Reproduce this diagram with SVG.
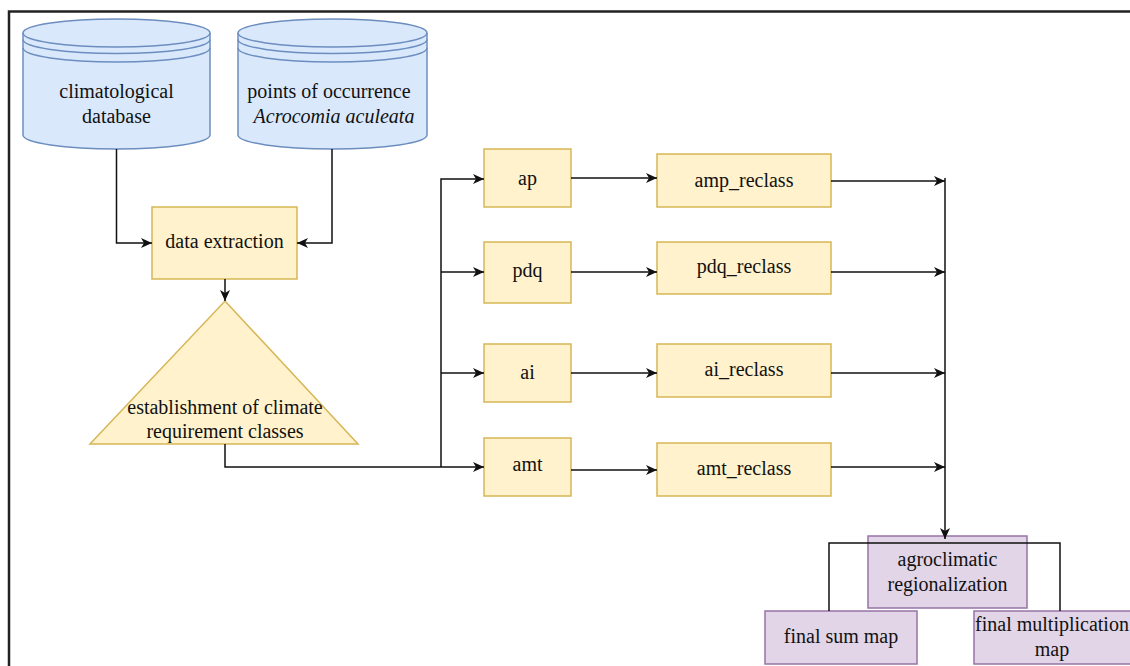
<svg xmlns="http://www.w3.org/2000/svg" width="1130" height="666" viewBox="0 0 1130 666">
<style>
.t{font-family:"Liberation Serif","Times New Roman",serif;font-size:20px;fill:#111;text-anchor:middle}
.i{font-style:italic}
.db{fill:#dae8fc;stroke:#6c8ebf;stroke-width:1.5}
.dbl{fill:none;stroke:#6c8ebf;stroke-width:1.5}
.y{fill:#fff2cc;stroke:#d6b656;stroke-width:1.5}
.p{fill:#e1d5e7;stroke:#9673a6;stroke-width:1.5}
.c{fill:none;stroke:#111;stroke-width:1.5}
.ca{fill:none;stroke:#111;stroke-width:1.5;marker-end:url(#arr)}
</style>
<defs>
<marker id="arr" markerUnits="userSpaceOnUse" markerWidth="12" markerHeight="10" refX="11" refY="5" orient="auto">
<path d="M0,0 L11,5 L0,10 L3,5 Z" fill="#111"/>
</marker>
</defs>
<rect width="1130" height="666" fill="#fff"/>
<path d="M9,666 V11.5 H1130" fill="none" stroke="#222" stroke-width="2.5"/>

<g id="climatological-database">
<path class="db" d="M23,33 A93.5,14 0 0 1 210,33 V135 A93.5,14 0 0 1 23,135 Z"/>
<path class="dbl" d="M23,33 A93.5,14 0 0 0 210,33 M23,39.5 A93.5,14 0 0 0 210,39.5 M23,48 A93.5,14 0 0 0 210,48"/>
<text class="t" x="116.5" y="98">climatological</text>
<text class="t" x="116.5" y="123">database</text>
</g>

<g id="points-of-occurrence">
<path class="db" d="M238,33 A94.5,14 0 0 1 427,33 V135 A94.5,14 0 0 1 238,135 Z"/>
<path class="dbl" d="M238,33 A94.5,14 0 0 0 427,33 M238,39.5 A94.5,14 0 0 0 427,39.5 M238,48 A94.5,14 0 0 0 427,48"/>
<text class="t" x="329" y="98">points of occurrence</text>
<text class="t i" x="334" y="123">Acrocomia aculeata</text>
</g>

<g id="data-extraction">
<rect class="y" x="152" y="207" width="145" height="72"/>
<text class="t" x="224.5" y="248">data extraction</text>
</g>

<g id="climate-classes">
<path class="y" d="M225,301 L358,444 L90,444 Z"/>
<text class="t" x="225" y="414">establishment of climate</text>
<text class="t" x="225" y="438">requirement classes</text>
</g>

<g id="ap"><rect class="y" x="484" y="149" width="87" height="58"/><text class="t" x="527.5" y="185">ap</text></g>
<g id="pdq"><rect class="y" x="484" y="242" width="87" height="61"/><text class="t" x="527.5" y="277">pdq</text></g>
<g id="ai"><rect class="y" x="484" y="344" width="87" height="58"/><text class="t" x="527.5" y="379">ai</text></g>
<g id="amt"><rect class="y" x="484" y="438" width="87" height="58"/><text class="t" x="527.5" y="471">amt</text></g>

<g id="amp_reclass"><rect class="y" x="657" y="154" width="174" height="53"/><text class="t" x="744" y="187">amp_reclass</text></g>
<g id="pdq_reclass"><rect class="y" x="657" y="242" width="174" height="52"/><text class="t" x="744" y="273">pdq_reclass</text></g>
<g id="ai_reclass"><rect class="y" x="657" y="344" width="174" height="53"/><text class="t" x="744" y="376">ai_reclass</text></g>
<g id="amt_reclass"><rect class="y" x="657" y="443" width="174" height="53"/><text class="t" x="744" y="475">amt_reclass</text></g>

<g id="agroclimatic-regionalization"><rect class="p" x="868" y="536" width="159" height="72"/><text class="t" x="947.5" y="566">agroclimatic</text><text class="t" x="947.5" y="591">regionalization</text></g>
<g id="final-sum-map"><rect class="p" x="765" y="611" width="152" height="53"/><text class="t" x="841" y="643">final sum map</text></g>
<g id="final-multiplication-map"><rect class="p" x="974" y="611" width="160" height="53"/><text class="t" x="1052" y="631">final multiplication</text><text class="t" x="1052" y="656">map</text></g>

<g id="connectors">
<path class="ca" d="M116.5,149 V243 H152"/>
<path class="ca" d="M332,149 V243 H297"/>
<path class="ca" d="M225,279 V301"/>
<path class="ca" d="M225,444 V467 H484"/>
<path class="ca" d="M441,467 V179 H484"/>
<path class="ca" d="M441,272 H484"/>
<path class="ca" d="M441,373 H484"/>
<path class="ca" d="M571,178 H657"/>
<path class="ca" d="M571,272 H657"/>
<path class="ca" d="M571,373 H657"/>
<path class="ca" d="M571,470 H657"/>
<path class="ca" d="M831,181 H945"/>
<path class="ca" d="M831,272 H945"/>
<path class="ca" d="M831,373 H945"/>
<path class="ca" d="M831,467 H945"/>
<path class="ca" d="M945,178 V539"/>
<path class="c" d="M829,611 V543 H1060 V611"/>
</g>
</svg>
